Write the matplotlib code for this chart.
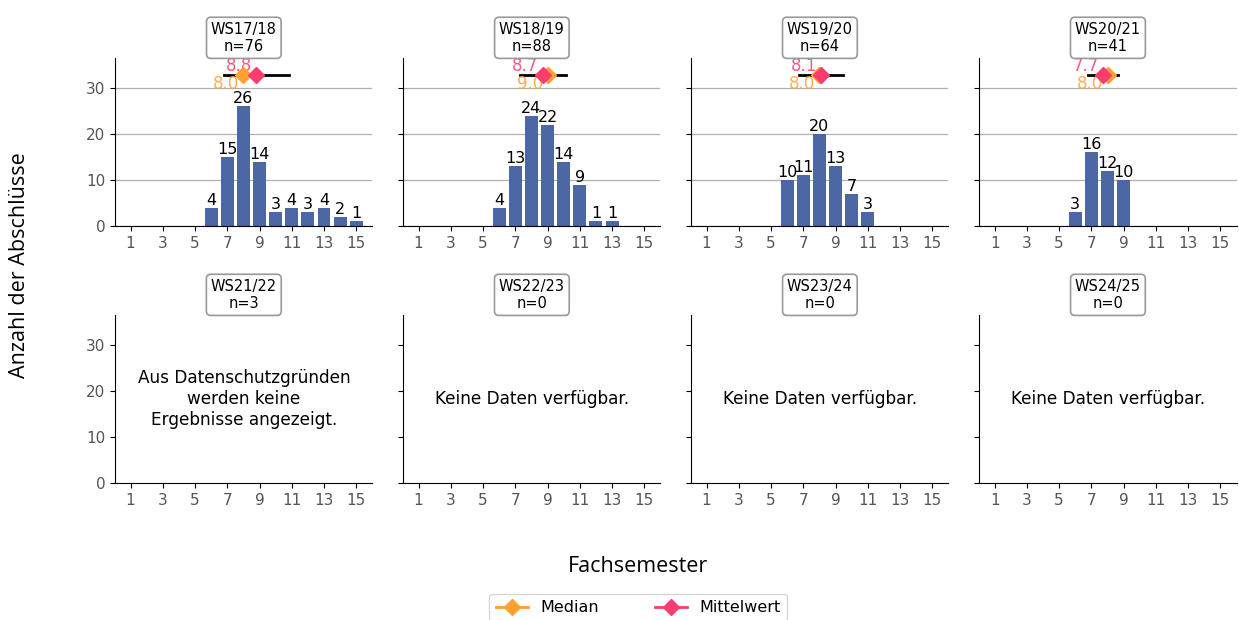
import numpy as np
import matplotlib
matplotlib.use("Agg")
import matplotlib.pyplot as plt
from matplotlib.lines import Line2D

# Daten
semester = ["WS17/18", "WS18/19", "WS19/20", "WS20/21",
            "WS21/22", "WS22/23", "WS23/24", "WS24/25"]
n_werte = [76, 88, 64, 41, 3, 0, 0, 0]
fachsemester = np.arange(1, 16)

counts_1718 = [0, 0, 0, 0, 0, 4, 15, 26, 14, 3, 4, 3, 4, 2, 1]
counts_1819 = [0, 0, 0, 0, 0, 4, 13, 24, 22, 14, 9, 1, 1, 0, 0]
counts_1920 = [0, 0, 0, 0, 0, 10, 11, 20, 13, 7, 3, 0, 0, 0, 0]
counts_2021 = [0, 0, 0, 0, 0, 3, 16, 12, 10, 0, 0, 0, 0, 0, 0]
counts = [counts_1718, counts_1819, counts_1920, counts_2021, None, None, None, None]

mittelwerte = [8.8, 8.7, 8.1, 7.7]
mediane = [8.0, 9.0, 8.0, 8.0]
std_abw = [2.03, 1.43, 1.36, 0.92]

BLAU = "#4c67a4"
ORANGE = "#ffa033"
PINK = "#f93d6e"
STAT_Y = 32.8

fig, axes = plt.subplots(2, 4, figsize=(12.39, 6.2), dpi=100, sharey=True)
fig.subplots_adjust(left=0.093, right=0.998, top=0.9065, bottom=0.221,
                    wspace=0.12, hspace=0.53)

for i, ax in enumerate(axes.flat):
    ax.set_xlim(0.05, 16.0)
    ax.set_ylim(0, 36.5)
    ax.set_xticks(range(1, 16, 2))
    ax.set_yticks([0, 10, 20, 30])
    ax.spines["top"].set_visible(False)
    ax.spines["right"].set_visible(False)
    ax.tick_params(labelsize=11, labelcolor="#555555")
    ax.set_title(f"{semester[i]}\nn={n_werte[i]}", fontsize=10.5, pad=5,
                 bbox=dict(boxstyle="round", fc="white", ec="#999999", lw=1.2))

    if counts[i] is not None:
        ax.set_axisbelow(True)
        ax.grid(axis="y", color="#b0b0b0", lw=0.9)
        c = np.array(counts[i])
        bars = ax.bar(fachsemester, c, width=0.8, color=BLAU)
        labels = [str(v) if v > 0 else "" for v in c]
        ax.bar_label(bars, labels=labels, fontsize=11.5)

        m, md, s = mittelwerte[i], mediane[i], std_abw[i]
        ax.plot([m - s, m + s], [STAT_Y, STAT_Y], color="black", lw=2, zorder=3)
        ax.plot([md], [STAT_Y], marker="D", ms=8, color=ORANGE, zorder=4)
        ax.plot([m], [STAT_Y], marker="D", ms=8, color=PINK, zorder=5)
        ax.annotate(f"{m:.1f}", (m, STAT_Y), xytext=(-3, 0), textcoords="offset points",
                    ha="right", va="bottom", fontsize=12, color=PINK, alpha=0.85)
        ax.annotate(f"{md:.1f}", (md, STAT_Y), xytext=(-3, 0), textcoords="offset points",
                    ha="right", va="top", fontsize=12, color=ORANGE, alpha=0.85)
    elif 0 < n_werte[i] < 5:
        ax.text(0.5, 0.5, "Aus Datenschutzgründen\nwerden keine\nErgebnisse angezeigt.",
                transform=ax.transAxes, ha="center", va="center", fontsize=12.2)
    else:
        ax.text(0.5, 0.5, "Keine Daten verfügbar.", transform=ax.transAxes,
                ha="center", va="center", fontsize=12.2)

fig.text(0.5153, 0.087, "Fachsemester", ha="center", va="center",
         fontsize=15.5, family="Open Sans")
fig.text(0.016, 0.573, "Anzahl der Abschlüsse", ha="center", va="center",
         rotation=90, fontsize=15.5, family="Open Sans")

handles = [Line2D([], [], color=ORANGE, marker="D", ms=8, lw=2, label="Median"),
           Line2D([], [], color=PINK, marker="D", ms=8, lw=2, label="Mittelwert")]
fig.legend(handles=handles, loc="upper center", bbox_to_anchor=(0.5153, 0.055),
           ncol=2, fontsize=11.5, frameon=True, columnspacing=3.5)

fig.savefig("out.png", dpi=100)
